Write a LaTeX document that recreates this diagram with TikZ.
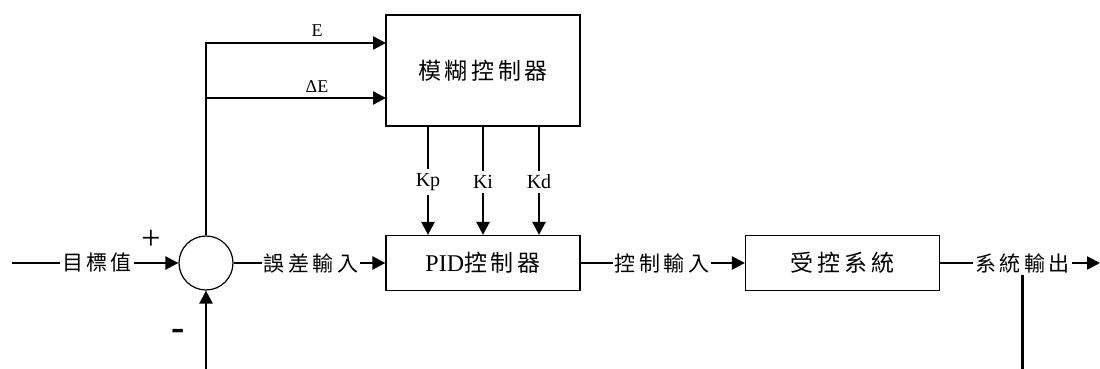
\documentclass[tikz,border=0pt]{standalone}
\usepackage{fontspec}
\setmainfont{Liberation Serif}
\newfontfamily\cjk[LetterSpace=16]{Noto Sans CJK TC}
\usetikzlibrary{arrows.meta,positioning,calc}

\begin{document}
\begin{tikzpicture}[x=0.5pt,y=-0.5pt,
  blk/.style={draw,line width=0.6pt,minimum width=97pt,inner sep=0pt},
  lbl/.style={inner sep=1pt,font=\cjk\fontsize{10.5}{12}\selectfont},
  klbl/.style={inner sep=2pt,font=\fontsize{10}{11}\selectfont},
  wire/.style={line width=1.2pt},
  arr/.style={line width=1.2pt,-{Triangle[length=6.5pt,width=6.5pt]}}]
\useasboundingbox (0,0) rectangle (1100,369);
% blocks
\node[blk,minimum height=55.5pt,font=\cjk\fontsize{11.5}{13}\selectfont] (fuzzy) at (483,70.5) {模糊控制器};
\node[blk,minimum height=27.5pt,font=\fontsize{12}{13}\selectfont] (pid) at (483,263) {PID{\cjk\fontsize{11.5}{13}\selectfont 控制器}};
\node[blk,minimum height=27.5pt,font=\cjk\fontsize{11.5}{13}\selectfont] (plant) at (842.5,263) {受控系統};
\node[draw,circle,line width=0.6pt,minimum size=27pt,inner sep=0pt] (sum) at (206,263) {};
% signal labels
\node[lbl] (ref) at (97,263) {目標值};
\node[lbl] (err) at (311,263) {誤差輸入};
\node[lbl] (ctl) at (662,263) {控制輸入};
\node[lbl] (outl) at (1022.5,263) {系統輸出};
\node[font=\fontsize{17}{17}\selectfont] (plus) at (151,240) {+};
\node[font=\bfseries\fontsize{20}{20}\selectfont] (minus) at (178.5,335) {-};
\node[klbl,font=\fontsize{9}{10}\selectfont] (eLbl) at (317,31) {E};
\node[klbl,font=\fontsize{9}{10}\selectfont] (dLbl) at (317,87) {ΔE};
\coordinate (src) at (12,263);
\coordinate (sink) at (1100,263);
\coordinate (fbL) at (206,369);
\coordinate (fbR) at (1023,369);
\coordinate (tap) at (206,98);
\coordinate (eIn) at (386,43);
\coordinate (dIn) at (386,98);
% forward path
\draw[wire] (src) -- (ref);
\draw[arr] (ref) -- (sum);
\draw[wire] (sum) -- (err);
\draw[arr] (err) -- (pid);
\draw[wire] (pid) -- (ctl);
\draw[arr] (ctl) -- (plant);
\draw[wire] (plant) -- (outl);
\draw[arr] (outl) -- (sink);
% feedback
\draw[arr] (fbL) -- (sum);
\draw[wire] (outl.south) -- (outl.south |- fbR);
% fuzzy inputs
\draw[arr] (sum) |- (eIn);
\draw[arr] (tap) -- (dIn);
% gains
\foreach \k/\x in {p/428,i/483,d/539}{
  \node[klbl] (k\k) at (\x,182) {K\k};
  \draw[wire] (fuzzy.south -| k\k) -- (k\k);
  \draw[arr] (k\k) -- (pid.north -| k\k);
}
\end{tikzpicture}
\end{document}
